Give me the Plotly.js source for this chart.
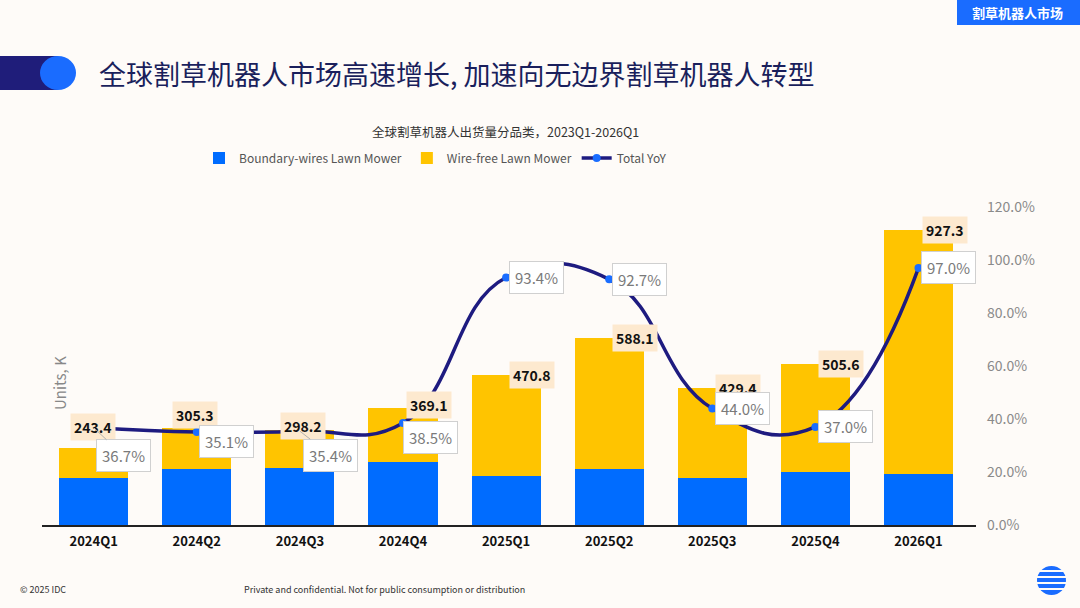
<!DOCTYPE html>
<html>
<head>
<meta charset="utf-8">
<script src="https://cdn.plot.ly/plotly-3.0.1.min.js"></script>
<style>
html,body{margin:0;padding:0;background:#fefbf8;}
#chart{width:1080px;height:608px;}
</style>
</head>
<body>
<div id="chart"></div>
<script>
// ---- data ----
const quarters = ["2024Q1","2024Q2","2024Q3","2024Q4","2025Q1","2025Q2","2025Q3","2025Q4","2026Q1"];
const totals = [243.4, 305.3, 298.2, 369.1, 470.8, 588.1, 429.4, 505.6, 927.3];
const boundaryWires = [148, 176, 179, 198, 154, 176, 148, 167, 160];
const wireFree = totals.map((t, i) => +(t - boundaryWires[i]).toFixed(1));
const totalYoY = [0.367, 0.351, 0.354, 0.385, 0.934, 0.927, 0.440, 0.370, 0.970];
const yoyLabels = ["36.7%","35.1%","35.4%","38.5%","93.4%","92.7%","44.0%","37.0%","97.0%"];

// label placement offsets (pixels)
const barLabelShift = [[-1,21],[-2,13],[3,4],[26,3],[26,0],[26,0],[26,0],[26,0],[26,0]];
const yoyLabelShift = [[30,28],[30,10],[31,24],[27,15],[30,0],[30,0],[30,0],[30,0],[30,0]];
const yoyLeader = [true,false,true,false,false,false,false,false,false];

const FONT = "Noto Sans CJK SC, Noto Sans, sans-serif";

const traces = [
  {type:"bar", name:"Boundary-wires Lawn Mower", x:quarters, y:boundaryWires,
   marker:{color:"#006cff"}, hoverinfo:"skip"},
  {type:"bar", name:"Wire-free Lawn Mower", x:quarters, y:wireFree,
   marker:{color:"#ffc400"}, hoverinfo:"skip"},
  {type:"scatter", mode:"lines+markers", name:"Total YoY", x:quarters, y:totalYoY, yaxis:"y2",
   line:{color:"#1e1b80", width:3.5, shape:"spline", smoothing:1.3},
   marker:{color:"#1a6dff", size:8}, hoverinfo:"skip"}
];

const annotations = [];
quarters.forEach((q, i) => {
  annotations.push({
    x:q, y:totals[i], xref:"x", yref:"y", text:"<b>"+totals[i].toFixed(1)+"</b>",
    showarrow:false, xshift:barLabelShift[i][0], yshift:barLabelShift[i][1],
    bgcolor:"#fde9cf", borderpad:3, font:{family:FONT, size:14, color:"#111"}
  });
});
quarters.forEach((q, i) => {
  annotations.push({
    x:q, y:totalYoY[i], xref:"x", yref:"y2", text:yoyLabels[i],
    showarrow:true, arrowhead:0, arrowwidth:1,
    arrowcolor: yoyLeader[i] ? "#b0b0b0" : "rgba(0,0,0,0)",
    ax:yoyLabelShift[i][0], ay:yoyLabelShift[i][1],
    bgcolor:"#ffffff", bordercolor:"#d0d0d0", borderwidth:1, borderpad:5,
    font:{family:FONT, size:15, color:"#7a7a7a"}
  });
});
// texts
annotations.push(
  {xref:"paper", yref:"paper", x:(97-42)/934, y:(525-73)/318, xanchor:"left", yanchor:"middle",
   text:"全球割草机器人市场高速增长, 加速向无边界割草机器人转型", showarrow:false,
   font:{family:FONT, size:27, color:"#1a1f5c"}},
  {xref:"paper", yref:"paper", x:(1018-42)/934, y:(525-12)/318, xanchor:"center", yanchor:"middle",
   text:"<b>割草机器人市场</b>", showarrow:false, font:{family:FONT, size:13, color:"#ffffff"}},
  {xref:"paper", yref:"paper", x:(505-42)/934, y:(525-131)/318, xanchor:"center", yanchor:"middle",
   text:"全球割草机器人出货量分品类，2023Q1-2026Q1", showarrow:false,
   font:{family:FONT, size:12.5, color:"#333333"}},
  {xref:"paper", yref:"paper", x:(59-42)/934, y:(525-383)/318, xanchor:"center", yanchor:"middle",
   text:"Units, K", textangle:-90, showarrow:false, font:{family:FONT, size:15, color:"#888888"}},
  {xref:"paper", yref:"paper", x:(18-42)/934, y:(525-589)/318, xanchor:"left", yanchor:"middle",
   text:"© 2025 IDC", showarrow:false, font:{family:FONT, size:9, color:"#333333"}},
  {xref:"paper", yref:"paper", x:(242-42)/934, y:(525-589)/318, xanchor:"left", yanchor:"middle",
   text:"Private and confidential. Not for public consumption or distribution", showarrow:false,
   font:{family:FONT, size:9, color:"#333333"}}
);

const px = v => (v-42)/934;
const py = v => (525-v)/318;
const shapes = [
  // header tag
  {type:"rect", xref:"paper", yref:"paper", x0:px(957), x1:px(1080), y0:py(0), y1:py(25),
   fillcolor:"#1a6cff", line:{width:0}, layer:"below"},
  // title decoration
  {type:"rect", xref:"paper", yref:"paper", x0:px(0), x1:px(58), y0:py(56), y1:py(90),
   fillcolor:"#1f1d7a", line:{width:0}},
  {type:"circle", xref:"paper", yref:"paper", x0:px(40), x1:px(76), y0:py(56), y1:py(90),
   fillcolor:"#1a6cff", line:{width:0}},
  // logo
  {type:"circle", xref:"paper", yref:"paper", x0:px(1037), x1:px(1066), y0:py(566), y1:py(595),
   fillcolor:"#1a6cff", line:{width:0}},
];
[571, 577, 583, 589].forEach(yy => shapes.push(
  {type:"line", xref:"paper", yref:"paper", x0:px(1034), x1:px(1069), y0:py(yy), y1:py(yy),
   line:{color:"#fefbf8", width:2}}
));

const layout = {
  width:1080, height:608,
  paper_bgcolor:"#fefbf8", plot_bgcolor:"#fefbf8",
  margin:{l:42, r:104, t:207, b:83},
  barmode:"stack", bargap:0.33,
  font:{family:FONT},
  showlegend:true,
  legend:{orientation:"h", x:px(199), xanchor:"left", y:py(158), yanchor:"middle",
          font:{family:FONT, size:12, color:"#555555"}, bgcolor:"rgba(0,0,0,0)", traceorder:"normal"},
  xaxis:{type:"category", showline:true, linecolor:"#222", linewidth:1.5, ticks:"",
         tickfont:{family:FONT, size:13, color:"#111", weight:"bold"}, showgrid:false, fixedrange:true,
         ticklabelstandoff:4},
  yaxis:{range:[0,1000], showticklabels:false, showgrid:false, zeroline:false, showline:false},
  yaxis2:{overlaying:"y", side:"right", range:[0,1.2], dtick:0.2, tickformat:".1%",
          showgrid:false, zeroline:false, showline:false,
          tickfont:{family:FONT, size:14, color:"#8a8a8a"}, ticklabelstandoff:10},
  annotations:annotations,
  shapes:shapes
};
Plotly.newPlot("chart", traces, layout, {displayModeBar:false, staticPlot:true});
</script>
</body>
</html>
